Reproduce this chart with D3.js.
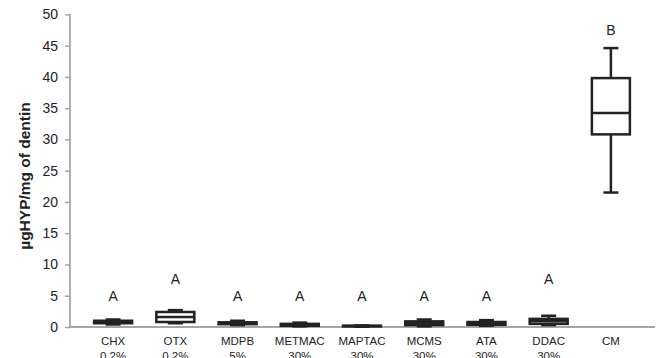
<!DOCTYPE html>
<html><head><meta charset="utf-8">
<script src="https://cdn.jsdelivr.net/npm/d3@7"></script>
<style>body{margin:0;background:#fff}svg{display:block}text{font-family:"Liberation Sans",Arial,sans-serif}</style>
</head><body><svg id="c" width="663" height="358"></svg>
<script>
const categories = ["CHX","OTX","MDPB","METMAC","MAPTAC","MCMS","ATA","DDAC","CM"];
const concentrations = ["0.2%","0.2%","5%","30%","30%","30%","30%","30%",""];
const mins    = [0.4, 0.6, 0.3, 0.1, 0.05, 0.1, 0.2, 0.3, 21.5];
const q1s     = [0.6, 0.8, 0.45,0.2, 0.1, 0.3, 0.35,0.5, 30.8];
const medians = [0.8, 1.6, 0.6, 0.3, 0.15,0.6, 0.5, 0.9, 34.2];
const q3s     = [1.0, 2.4, 0.75,0.5, 0.2, 0.9, 0.8, 1.3, 39.8];
const maxs    = [1.2, 2.7, 1.0, 0.7, 0.25,1.2, 1.1, 1.8, 44.6];
const groups  = ["A","A","A","A","A","A","A","A","B"];
const groupY  = [5, 7.8, 5, 5, 5, 5, 5, 7.8, 47.5];
const yTicks  = [0,5,10,15,20,25,30,35,40,45,50];

const svg = d3.select("#c");
const y = d3.scaleLinear().domain([0,50]).range([327,14.3]);
const x = d3.scaleBand().domain(categories).range([82,642]).paddingInner(0).paddingOuter(0);
const axisCol = "#a6a6a6", boxCol = "#222";

// y axis
const ya = svg.append("g").attr("transform","translate(70,0)")
  .call(d3.axisLeft(y).tickValues(yTicks).tickSize(5).tickPadding(7));
ya.select(".domain").remove();
ya.selectAll(".tick line").attr("stroke",axisCol).attr("stroke-width",1.5);
ya.selectAll(".tick text").attr("font-size",14).attr("fill","#222");
svg.append("line").attr("x1",70).attr("x2",70).attr("y1",y(50)).attr("y2",y(0))
  .attr("stroke",axisCol).attr("stroke-width",1.8);
svg.append("line").attr("x1",70).attr("x2",655).attr("y1",y(0)).attr("y2",y(0))
  .attr("stroke",axisCol).attr("stroke-width",1.8);

// x labels
const xl = svg.append("g");
categories.forEach((c,i)=>{
  const cx = x(c)+x.bandwidth()/2;
  const t = xl.append("text").attr("x",cx).attr("y",345).attr("text-anchor","middle")
    .attr("font-size",11.5).attr("fill","#222");
  t.append("tspan").attr("x",cx).text(c);
  if (concentrations[i]) t.append("tspan").attr("x",cx).attr("dy",14.5).text(concentrations[i]);
});

// y title
svg.append("text").attr("transform","translate(30,176) rotate(-90)")
  .attr("text-anchor","middle").attr("font-size",15.5).attr("font-weight","bold")
  .attr("fill","#222").text("µgHYP/mg of dentin");

// boxes
const bw = 38, cap = 15;
categories.forEach((c,i)=>{
  const cx = x(c)+x.bandwidth()/2;
  const g = svg.append("g").attr("stroke",boxCol).attr("stroke-width",2.5).attr("fill","none");
  g.append("line").attr("x1",cx).attr("x2",cx).attr("y1",y(maxs[i])).attr("y2",y(q3s[i]));
  g.append("line").attr("x1",cx).attr("x2",cx).attr("y1",y(q1s[i])).attr("y2",y(mins[i]));
  g.append("line").attr("x1",cx-cap/2).attr("x2",cx+cap/2).attr("y1",y(maxs[i])).attr("y2",y(maxs[i]));
  g.append("line").attr("x1",cx-cap/2).attr("x2",cx+cap/2).attr("y1",y(mins[i])).attr("y2",y(mins[i]));
  g.append("rect").attr("x",cx-bw/2).attr("width",bw).attr("y",y(q3s[i]))
    .attr("height",Math.max(0.5,y(q1s[i])-y(q3s[i]))).attr("fill","#fff");
  g.append("line").attr("x1",cx-bw/2).attr("x2",cx+bw/2).attr("y1",y(medians[i])).attr("y2",y(medians[i]));
  svg.append("text").attr("x",cx).attr("y",y(groupY[i])+5.5).attr("text-anchor","middle")
    .attr("font-size",14).attr("fill","#222").text(groups[i]);
});
</script></body></html>
